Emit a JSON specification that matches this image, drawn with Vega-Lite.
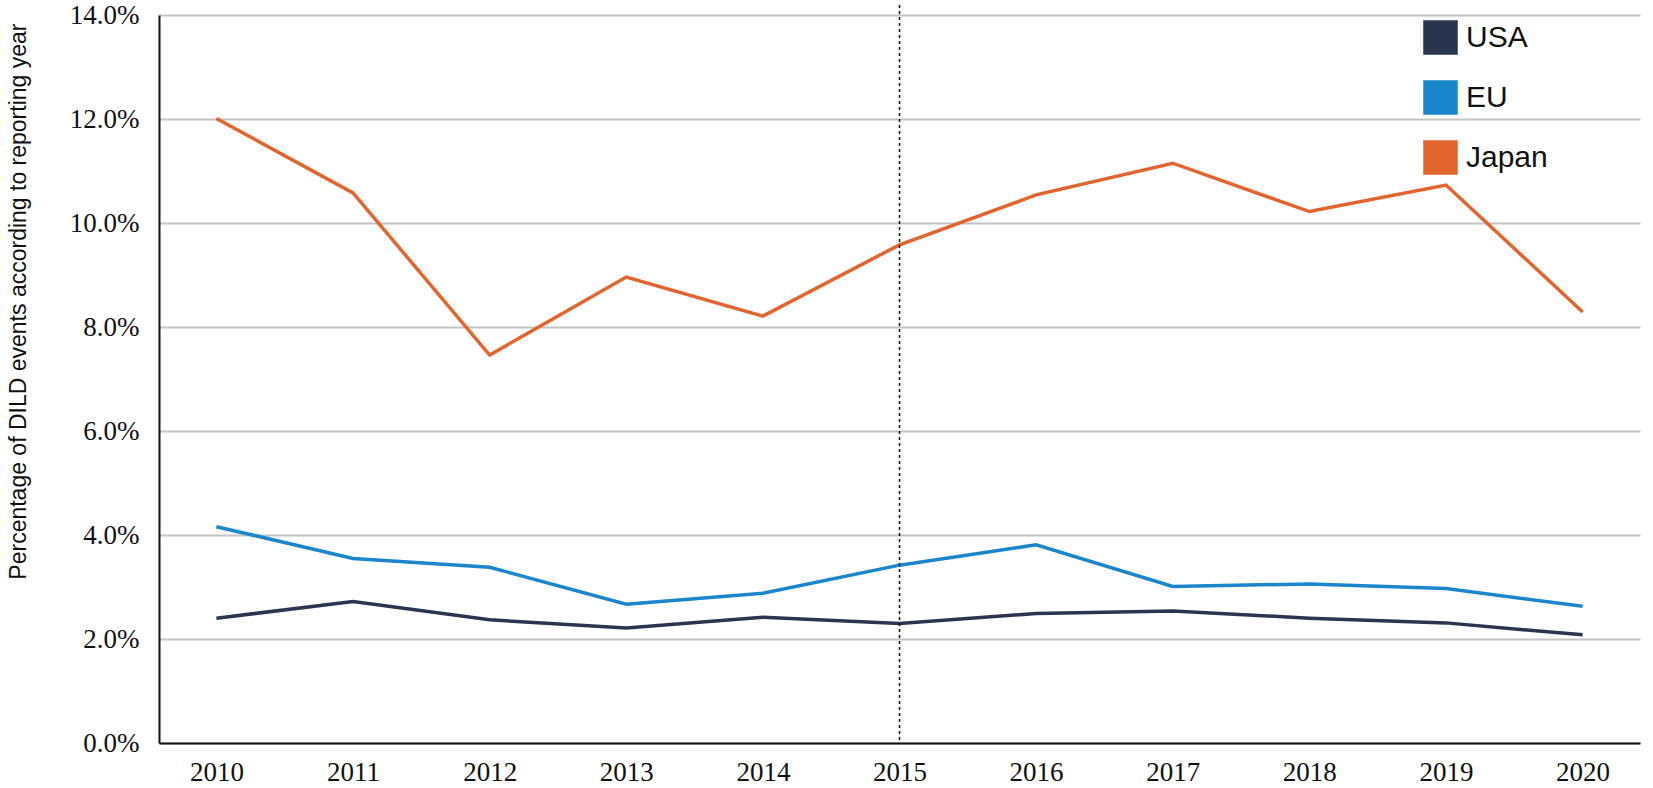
{
  "$schema": "https://vega.github.io/schema/vega-lite/v6.json",
  "width": 1481,
  "height": 728,
  "autosize": "none",
  "padding": {"left": 159, "top": 15, "right": 13, "bottom": 45},
  "background": "white",
  "config": {
    "view": {"stroke": null},
    "axis": {
      "labelFont": "Liberation Serif",
      "labelFontSize": 27,
      "labelColor": "#111111",
      "domainColor": "#111111",
      "domainWidth": 2,
      "ticks": false,
      "gridColor": "#c4c4c4",
      "gridWidth": 2
    }
  },
  "data": {
    "values": [
      {"year": "2010", "region": "USA", "pct": 2.40},
      {"year": "2011", "region": "USA", "pct": 2.72},
      {"year": "2012", "region": "USA", "pct": 2.37},
      {"year": "2013", "region": "USA", "pct": 2.21},
      {"year": "2014", "region": "USA", "pct": 2.42},
      {"year": "2015", "region": "USA", "pct": 2.30},
      {"year": "2016", "region": "USA", "pct": 2.49},
      {"year": "2017", "region": "USA", "pct": 2.54},
      {"year": "2018", "region": "USA", "pct": 2.40},
      {"year": "2019", "region": "USA", "pct": 2.31},
      {"year": "2020", "region": "USA", "pct": 2.08},
      {"year": "2010", "region": "EU", "pct": 4.16},
      {"year": "2011", "region": "EU", "pct": 3.55},
      {"year": "2012", "region": "EU", "pct": 3.38},
      {"year": "2013", "region": "EU", "pct": 2.67},
      {"year": "2014", "region": "EU", "pct": 2.88},
      {"year": "2015", "region": "EU", "pct": 3.42},
      {"year": "2016", "region": "EU", "pct": 3.81},
      {"year": "2017", "region": "EU", "pct": 3.01},
      {"year": "2018", "region": "EU", "pct": 3.06},
      {"year": "2019", "region": "EU", "pct": 2.97},
      {"year": "2020", "region": "EU", "pct": 2.63},
      {"year": "2010", "region": "Japan", "pct": 12.01},
      {"year": "2011", "region": "Japan", "pct": 10.58},
      {"year": "2012", "region": "Japan", "pct": 7.46},
      {"year": "2013", "region": "Japan", "pct": 8.96},
      {"year": "2014", "region": "Japan", "pct": 8.21},
      {"year": "2015", "region": "Japan", "pct": 9.58},
      {"year": "2016", "region": "Japan", "pct": 10.54},
      {"year": "2017", "region": "Japan", "pct": 11.15},
      {"year": "2018", "region": "Japan", "pct": 10.22},
      {"year": "2019", "region": "Japan", "pct": 10.73},
      {"year": "2020", "region": "Japan", "pct": 8.29}
    ]
  },
  "encoding": {
    "x": {
      "field": "year",
      "type": "ordinal",
      "scale": {"type": "point", "padding": 0.42},
      "axis": {
        "title": null,
        "labelAngle": 0,
        "labelPadding": 16,
        "grid": false
      }
    },
    "y": {
      "field": "pct",
      "type": "quantitative",
      "scale": {"domain": [0, 14], "nice": false},
      "axis": {
        "values": [0, 2, 4, 6, 8, 10, 12, 14],
        "labelExpr": "format(datum.value, '.1f') + '%'",
        "labelPadding": 20,
        "title": "Percentage of DILD events according to reporting year",
        "titleFont": "Liberation Sans",
        "titleFontSize": 23,
        "titleFontWeight": "normal",
        "titleColor": "#111111",
        "titleAngle": -90,
        "titleX": -141,
        "titleY": 8,
        "titleAlign": "right",
        "titleBaseline": "middle"
      }
    },
    "color": {
      "field": "region",
      "type": "nominal",
      "scale": {
        "domain": ["USA", "EU", "Japan"],
        "range": ["#2a3650", "#1b86cc", "#e2652f"]
      },
      "legend": {
        "title": null,
        "orient": "none",
        "legendX": 1264,
        "legendY": 5,
        "symbolType": "square",
        "symbolSize": 1024,
        "symbolStrokeColor": "#111111",
        "symbolStrokeWidth": 2.5,
        "labelFont": "Liberation Sans",
        "labelFontSize": 30,
        "labelColor": "#111111",
        "labelOffset": 8,
        "rowPadding": 17
      }
    }
  },
  "layer": [
    {
      "mark": {"type": "square", "filled": true, "size": 0, "stroke": "#111111", "strokeWidth": 2.5, "opacity": 1}
    },
    {
      "mark": {"type": "line", "strokeWidth": 3.5}
    },
    {
      "data": {"values": [{"year": "2015"}]},
      "mark": {"type": "rule", "color": "#111111", "strokeWidth": 1.5, "strokeDash": [3, 3], "y": -10, "y2": 728},
      "encoding": {"y": null, "color": null}
    }
  ]
}
